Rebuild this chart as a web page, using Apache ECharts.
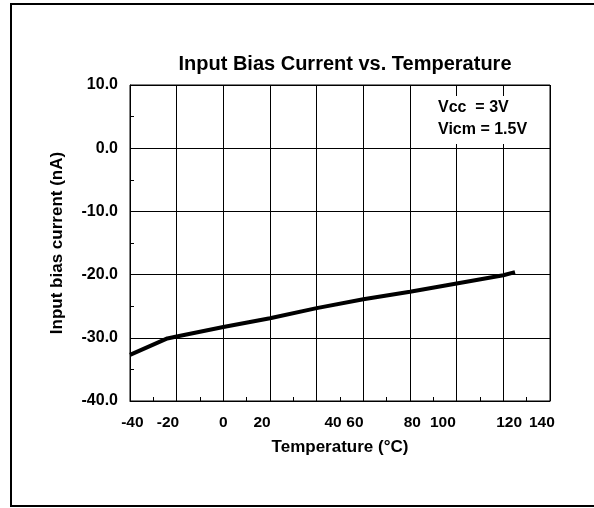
<!DOCTYPE html>
<html>
<head>
<meta charset="utf-8">
<script src="https://cdn.jsdelivr.net/npm/echarts@6/dist/echarts.min.js"></script>
<style>
  html, body { margin: 0; padding: 0; background: #fff; }
  #chart { width: 594px; height: 508px; }
</style>
</head>
<body>
<div id="chart"></div>
<script>
// curve
var temps = [-40, -24, -20, 0, 20, 40, 60, 80, 100, 120, 125];
var bias = [-32.7, -30.1, -29.8, -28.3, -26.9, -25.3, -23.9, -22.7, -21.4, -20.1, -19.6];

// x labels are drawn off the gridlines in the original, so keep where they sit
var xLabels = ["-40", "-20", "0", "20", "40", "60", "80", "100", "120", "140"];
var xLabelAt = [-39, -23.7, 0, 16.6, 47, 56.4, 81, 94.1, 122.5, 136.5];

var chart = echarts.init(document.getElementById("chart"));
var font = "'Liberation Sans', Arial, sans-serif";

var option = {
  backgroundColor: "#fff",
  animation: false,
  title: {
    text: "Input Bias Current vs. Temperature",
    left: 340,
    textAlign: "center",
    top: 49,
    textStyle: { fontFamily: font, fontSize: 20, fontWeight: "bold", color: "#000" }
  },
  grid: {
    left: 130, right: 44, top: 85, bottom: 107,
    show: true, borderColor: "#000", borderWidth: 1
  },
  xAxis: {
    type: "value",
    min: -40, max: 140, interval: 20,
    name: "Temperature (°C)",
    nameLocation: "middle",
    nameGap: 38,
    nameTextStyle: { fontFamily: font, fontSize: 17, fontWeight: "bold", color: "#000" },
    axisLine: { onZero: false, lineStyle: { color: "#000", width: 1 } },
    axisTick: { show: true, inside: true, length: 4, lineStyle: { color: "#000" } },
    minorTick: { show: true, splitNumber: 2, length: 4, lineStyle: { color: "#000" } },
    splitLine: { show: true, lineStyle: { color: "#000", width: 1 } },
    axisLabel: {
      customValues: xLabelAt,
      margin: 14,
      fontFamily: font, fontSize: 15.5, fontWeight: "bold", color: "#000",
      formatter: function (v) {
        var i = xLabelAt.indexOf(v);
        return i >= 0 ? xLabels[i] : "";
      }
    }
  },
  yAxis: {
    type: "value",
    min: -40, max: 10, interval: 10,
    name: "Input bias current (nA)",
    nameLocation: "middle",
    nameGap: 64,
    nameTextStyle: { fontFamily: font, fontSize: 17, fontWeight: "bold", color: "#000" },
    axisLine: { show: true, onZero: false, lineStyle: { color: "#000", width: 1 } },
    axisTick: { show: true, inside: true, length: 4, lineStyle: { color: "#000" } },
    minorTick: { show: true, splitNumber: 2, length: 4, lineStyle: { color: "#000" } },
    splitLine: { show: true, lineStyle: { color: "#000", width: 1 } },
    axisLabel: {
      margin: 12,
      padding: [5, 0, 0, 0],
      fontFamily: font, fontSize: 16, fontWeight: "bold", color: "#000",
      formatter: function (v) { return v.toFixed(1); }
    }
  },
  series: [{
    type: "line",
    data: temps.map(function (t, i) { return [t, bias[i]]; }),
    showSymbol: false,
    lineStyle: { color: "#000", width: 4 },
    z: 5
  }],
  graphic: [
    {
      type: "rect", z: 100,
      shape: { x: 422, y: 96, width: 126, height: 48 },
      style: { fill: "#fff", stroke: null }
    },
    {
      type: "text", z: 101, left: 438, top: 100,
      style: { text: "Vcc  = 3V", fontFamily: font, fontSize: 16, fontWeight: "bold", fill: "#000" }
    },
    {
      type: "text", z: 101, left: 438, top: 122,
      style: { text: "Vicm = 1.5V", fontFamily: font, fontSize: 16, fontWeight: "bold", fill: "#000" }
    },
    {
      type: "rect", z: 100,
      shape: { x: 11, y: 4, width: 584, height: 502 },
      style: { fill: null, stroke: "#000", lineWidth: 2 }
    }
  ]
};

chart.setOption(option);
</script>
</body>
</html>
